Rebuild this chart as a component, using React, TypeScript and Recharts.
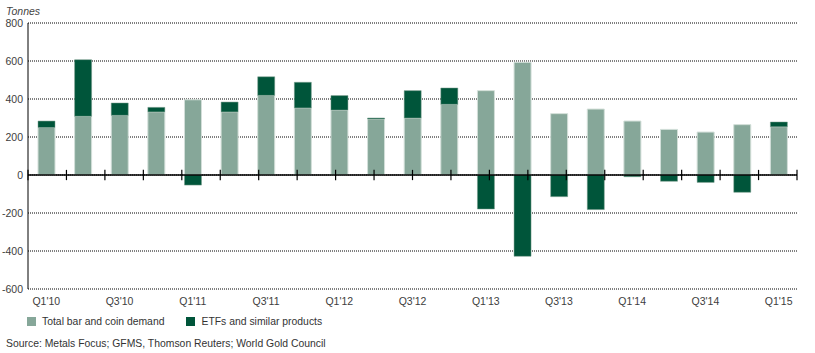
import React from 'react';
import { BarChart, Bar, XAxis, YAxis, CartesianGrid, ReferenceLine } from 'recharts';

const quarters = [
  "Q1'10", "Q2'10", "Q3'10", "Q4'10",
  "Q1'11", "Q2'11", "Q3'11", "Q4'11",
  "Q1'12", "Q2'12", "Q3'12", "Q4'12",
  "Q1'13", "Q2'13", "Q3'13", "Q4'13",
  "Q1'14", "Q2'14", "Q3'14", "Q4'14",
  "Q1'15",
];
const barCoin = [250, 309, 314, 332, 396, 332, 419, 353, 342, 295, 300, 372, 444, 593, 323, 347, 284, 240, 226, 265, 254];
const etfs = [34, 298, 65, 24, -53, 52, 98, 135, 76, 5, 144, 86, -179, -428, -114, -182, -9, -33, -39, -91, 25];
const yTicks = [-600, -400, -200, 0, 200, 400, 600, 800];
const seriesNames = ['Total bar and coin demand', 'ETFs and similar products'];
const colors = ['#86a799', '#00553a'];

const data = quarters.map((q, i) => ({ q, barCoin: barCoin[i], etfs: etfs[i] }));
const boundaries = Array.from({ length: quarters.length + 1 }, (_, i) => i);

const FONT = 'Liberation Sans, Arial, Helvetica, sans-serif';
const FS = 10.5;

export default function App() {
  return (
    <div style={{ position: 'absolute', left: 0, top: 0, width: 815, height: 353, fontFamily: FONT, background: '#fff' }}>
      <style>{`body{margin:0}`}</style>
      <div style={{ position: 'absolute', left: 6, top: 5, fontSize: FS, fontStyle: 'italic', color: '#444' }}>Tonnes</div>
      <BarChart
        width={815}
        height={353}
        data={data}
        stackOffset="sign"
        barSize={17}
        margin={{ top: 23, right: 18, left: 0, bottom: 34 }}
      >
        <CartesianGrid vertical={false} stroke="#000" strokeDasharray="1 1" />
        <XAxis
          dataKey="q"
          interval={1}
          axisLine={false}
          tickLine={false}
          tickSize={0}
          tickMargin={9}
          height={30}
          tick={{ fontSize: FS, fill: '#3d3d3d', fontFamily: FONT }}
        />
        <XAxis xAxisId="n" type="number" domain={[0, quarters.length]} hide />
        <YAxis
          domain={[-600, 800]}
          ticks={yTicks}
          width={28}
          tickSize={0}
          tickMargin={5}
          axisLine={{ stroke: '#000', strokeWidth: 1 }}
          tickLine={false}
          tick={{ fontSize: FS, fill: '#3d3d3d', fontFamily: FONT }}
        />
        <Bar dataKey="barCoin" stackId="a" fill={colors[0]} stroke="#d3dfd9" strokeWidth={1} isAnimationActive={false} />
        <Bar dataKey="etfs" stackId="a" fill={colors[1]} stroke="#7a9c8d" strokeWidth={0.5} isAnimationActive={false} />
        <ReferenceLine y={0} stroke="#000" strokeWidth={1.5} />
        {boundaries.map((b) => (
          <ReferenceLine
            key={b}
            xAxisId="n"
            segment={[{ x: b, y: -27 }, { x: b, y: 27 }]}
            stroke="#000"
            strokeWidth={1.2}
            ifOverflow="visible"
          />
        ))}
      </BarChart>
      <div style={{ position: 'absolute', left: 27, top: 316, display: 'flex', alignItems: 'center', fontSize: 10.4, color: '#333' }}>
        <span style={{ display: 'inline-block', width: 9, height: 9, background: colors[0], marginRight: 6 }} />
        <span style={{ marginRight: 22 }}>{seriesNames[0]}</span>
        <span style={{ display: 'inline-block', width: 9, height: 9, background: colors[1], marginRight: 6 }} />
        <span>{seriesNames[1]}</span>
      </div>
      <div style={{ position: 'absolute', left: 6, top: 338, fontSize: 10.4, color: '#333' }}>
        Source: Metals Focus; GFMS, Thomson Reuters; World Gold Council
      </div>
    </div>
  );
}
